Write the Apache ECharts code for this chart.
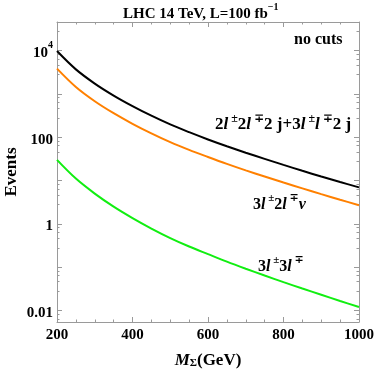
<!DOCTYPE html>
<html>
<head>
<meta charset="utf-8">
<script src="https://cdn.jsdelivr.net/npm/echarts@6.0.0/dist/echarts.min.js"></script>
<style>
  html, body { margin: 0; padding: 0; background: #fff; }
  #chart { width: 374px; height: 369px; }
</style>
</head>
<body>
<div id="chart"></div>
<script>
// ===== 数据 =====
const masses = [200, 250, 300, 350, 400, 450, 500, 550, 600, 650, 700, 750, 800, 850, 900, 950, 1000];
const events2l2l = [9800, 3700, 1740, 920, 525, 315, 198, 131, 89, 62, 44, 31.7, 23, 16.8, 12.4, 9.25, 6.95];
const events3l2l = [3850, 1450, 680, 360, 205, 123, 77, 51, 35, 24.3, 17.2, 12.4, 9.0, 6.6, 4.85, 3.6, 2.7];
const events3l3l = [30, 11.1, 5.0, 2.5, 1.36, 0.78, 0.47, 0.30, 0.20, 0.134, 0.092, 0.064, 0.045, 0.032, 0.023, 0.0165, 0.012];

const xTicks = [200, 400, 600, 800, 1000];
const yTickValues = [0.01, 1, 100, 10000];
const yTickLabels = ['{b|0.01}', '{b|1}', '{b|100}', '{b|10}{s|4}'];

const serif = '"Liberation Serif", "DejaVu Serif", serif';
const frameColor = '#9a9a9a';
const orange = '#ff8000';
const green = '#11ee11';

// 富文本样式：b 粗体，i 斜体，s 上标
function makeRich(size, color) {
  return {
    b: { fontFamily: serif, fontWeight: 'bold', fontSize: size, color: color, lineHeight: 20, verticalAlign: 'bottom' },
    i: { fontFamily: serif, fontWeight: 'bold', fontStyle: 'italic', fontSize: size, color: color, lineHeight: 20, verticalAlign: 'bottom' },
    s: { fontFamily: serif, fontWeight: 'bold', fontSize: Math.round(size * 0.68), color: color, lineHeight: 13, verticalAlign: 'top' },
    sub: { fontFamily: serif, fontWeight: 'bold', fontSize: Math.round(size * 0.65), color: color, lineHeight: 14, verticalAlign: 'bottom' }
  };
}

function toPairs(ys) {
  return masses.map((m, i) => [m, ys[i]]);
}

const chart = echarts.init(document.getElementById('chart'), null, { renderer: 'canvas' });

const tickCommon = { inside: true, length: 5, lineStyle: { color: frameColor, width: 1 } };
const minorCommon = { show: true, length: 2.5, lineStyle: { color: frameColor, width: 1 } };

function lineSeries(name, ys, color) {
  return {
    name: name,
    type: 'line',
    data: toPairs(ys),
    smooth: 0.35,
    showSymbol: false,
    lineStyle: { color: color, width: 2 }
  };
}

chart.setOption({
  animation: false,
  backgroundColor: '#fff',
  title: {
    text: '{b|LHC 14 TeV, L=100 fb}{s|\u22121}',
    left: 118,
    top: -3,
    textStyle: { rich: makeRich(15, '#000') }
  },
  grid: { left: 57, right: 15, top: 22, bottom: 47, containLabel: false, outerBoundsMode: 'none' },
  xAxis: [{
    type: 'value',
    min: 200,
    max: 1000,
    interval: 200,
    position: 'bottom',
    axisLine: { show: true, lineStyle: { color: frameColor, width: 1 } },
    axisTick: tickCommon,
    minorTick: Object.assign({ splitNumber: 4 }, minorCommon),
    splitLine: { show: false },
    axisLabel: {
      margin: 6,
      hideOverlap: false,
      fontFamily: serif, fontWeight: 'bold', fontSize: 15, color: '#000',
      formatter: v => xTicks.includes(v) ? String(v) : ''
    },
    name: '{i|M}{sub|\u03a3}{b|(GeV)}',
    nameLocation: 'middle',
    nameGap: 27,
    nameMoveOverlap: false,
    nameTextStyle: { rich: makeRich(17, '#000') }
  }, {
    type: 'value',
    min: 200,
    max: 1000,
    interval: 200,
    position: 'top',
    axisLine: { show: true, lineStyle: { color: frameColor, width: 1 } },
    axisTick: tickCommon,
    minorTick: Object.assign({ splitNumber: 4 }, minorCommon),
    splitLine: { show: false },
    axisLabel: { show: false }
  }],
  yAxis: [{
    type: 'log',
    logBase: 10,
    min: 0.0054,
    max: 46000,
    position: 'left',
    axisLine: { show: true, lineStyle: { color: frameColor, width: 1 } },
    axisTick: tickCommon,
    minorTick: Object.assign({ splitNumber: 5 }, minorCommon),
    splitLine: { show: false },
    axisLabel: {
      margin: 4,
      formatter: v => {
        const idx = yTickValues.findIndex(t => Math.abs(Math.log10(t) - Math.log10(v)) < 1e-6);
        return idx >= 0 ? yTickLabels[idx] : '';
      },
      rich: makeRich(15, '#000')
    },
    name: 'Events',
    nameLocation: 'middle',
    nameGap: 37,
    nameMoveOverlap: false,
    nameTextStyle: { fontFamily: serif, fontWeight: 'bold', fontSize: 17, color: '#000' }
  }, {
    type: 'log',
    logBase: 10,
    min: 0.0054,
    max: 46000,
    position: 'right',
    axisLine: { show: true, lineStyle: { color: frameColor, width: 1 } },
    axisTick: tickCommon,
    minorTick: Object.assign({ splitNumber: 5 }, minorCommon),
    splitLine: { show: false },
    axisLabel: { show: false }
  }],
  series: [
    lineSeries('2l2l2j+3ll2j', events2l2l, '#000'),
    lineSeries('3l2lnu', events3l2l, orange),
    lineSeries('3l3l', events3l3l, green)
  ],
  graphic: [{
    type: 'text',
    left: 294, top: 32,
    style: { text: '{b|no cuts}', rich: makeRich(16, '#000') }
  }, {
    type: 'text',
    left: 215, top: 113,
    style: { text: '{b|2}{i|l}{s| \u00b1}{b|2}{i|l}{s| \u2213}{b|2 j+3}{i|l}{s| \u00b1}{i|l}{s| \u2213}{b|2 j}', rich: makeRich(17, '#000') }
  }, {
    type: 'text',
    left: 253, top: 193,
    style: { text: '{b|3}{i|l}{s| \u00b1}{b|2}{i|l}{s| \u2213}{i|\u03bd}', rich: makeRich(16, orange) }
  }, {
    type: 'text',
    left: 258, top: 255,
    style: { text: '{b|3}{i|l}{s| \u00b1}{b|3}{i|l}{s| \u2213}', rich: makeRich(16, green) }
  }]
});
</script>
</body>
</html>
